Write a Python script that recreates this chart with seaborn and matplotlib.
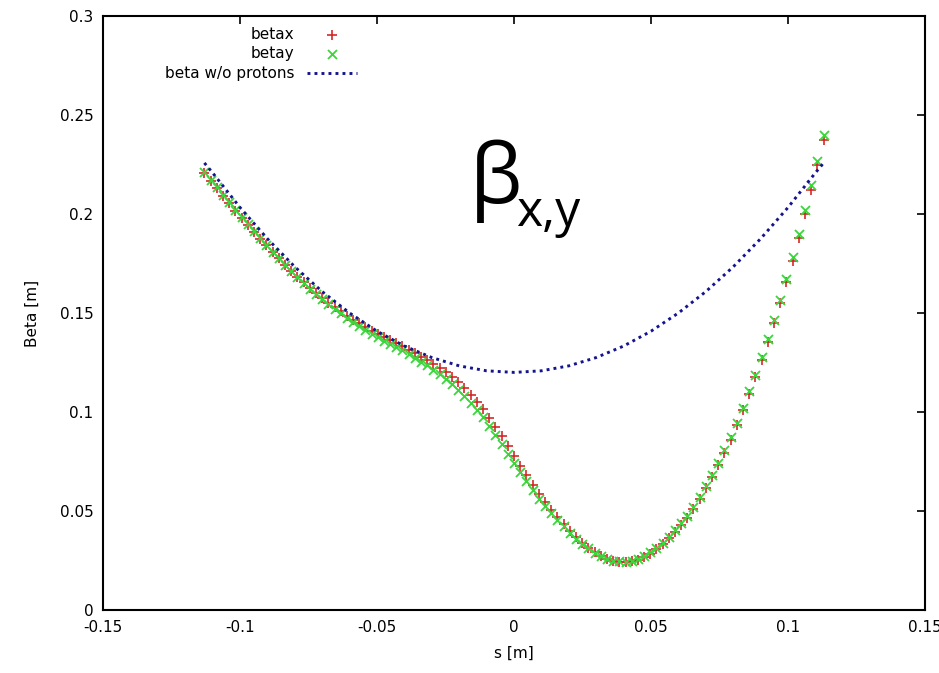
import matplotlib
matplotlib.use("Agg")
import matplotlib.pyplot as plt
import seaborn as sns
import pandas as pd

# ---------------- data ----------------
S = [-0.1130, -0.1107, -0.1085, -0.1062, -0.1040, -0.1017, -0.0994, -0.0972, -0.0949, -0.0927,
     -0.0904, -0.0881, -0.0859, -0.0836, -0.0814, -0.0791, -0.0768, -0.0746, -0.0723, -0.0701,
     -0.0678, -0.0655, -0.0633, -0.0610, -0.0588, -0.0565, -0.0542, -0.0520, -0.0497, -0.0475,
     -0.0452, -0.0429, -0.0407, -0.0384, -0.0362, -0.0339, -0.0316, -0.0294, -0.0271, -0.0249,
     -0.0226, -0.0203, -0.0181, -0.0158, -0.0136, -0.0113, -0.0090, -0.0068, -0.0045, -0.0023,
     0.0000,
     0.0023, 0.0045, 0.0068, 0.0090, 0.0113, 0.0136, 0.0158, 0.0181, 0.0203, 0.0226,
     0.0249, 0.0271, 0.0294, 0.0316, 0.0339, 0.0362, 0.0384, 0.0407, 0.0429, 0.0452,
     0.0475, 0.0497, 0.0520, 0.0542, 0.0565, 0.0588, 0.0610, 0.0633, 0.0655, 0.0678,
     0.0701, 0.0723, 0.0746, 0.0768, 0.0791, 0.0814, 0.0836, 0.0859, 0.0881, 0.0904,
     0.0927, 0.0949, 0.0972, 0.0994, 0.1017, 0.1040, 0.1062, 0.1085, 0.1107, 0.1130]

BETAX = [0.2207, 0.2168, 0.2130, 0.2092, 0.2054, 0.2016, 0.1979, 0.1943, 0.1908, 0.1874,
         0.1841, 0.1808, 0.1776, 0.1743, 0.1712, 0.1683, 0.1655, 0.1628, 0.1602, 0.1577,
         0.1553, 0.1530, 0.1508, 0.1487, 0.1467, 0.1448, 0.1428, 0.1410, 0.1393, 0.1377,
         0.1362, 0.1347, 0.1332, 0.1315, 0.1298, 0.1280, 0.1262, 0.1243, 0.1222, 0.1203,
         0.1178, 0.1150, 0.1120, 0.1087, 0.1052, 0.1013, 0.0970, 0.0925, 0.0877, 0.0827,
         0.0777,
         0.0728, 0.0680, 0.0632, 0.0587, 0.0545, 0.0505, 0.0468, 0.0432, 0.0398, 0.0367,
         0.0339, 0.0314, 0.0292, 0.0274, 0.0260, 0.0250, 0.0244, 0.0242, 0.0245, 0.0254,
         0.0267, 0.0285, 0.0307, 0.0333, 0.0362, 0.0393, 0.0428, 0.0465, 0.0512, 0.0562,
         0.0615, 0.0671, 0.0731, 0.0794, 0.0861, 0.0933, 0.1009, 0.1090, 0.1175, 0.1263,
         0.1353, 0.1449, 0.1550, 0.1655, 0.1765, 0.1880, 0.2000, 0.2123, 0.2247, 0.2374]

BETAY = [0.2212, 0.2173, 0.2135, 0.2097, 0.2059, 0.2021, 0.1983, 0.1947, 0.1912, 0.1877,
         0.1843, 0.1809, 0.1776, 0.1742, 0.1710, 0.1680, 0.1651, 0.1623, 0.1596, 0.1570,
         0.1545, 0.1521, 0.1498, 0.1476, 0.1455, 0.1435, 0.1414, 0.1395, 0.1377, 0.1360,
         0.1344, 0.1328, 0.1312, 0.1294, 0.1275, 0.1255, 0.1235, 0.1213, 0.1190, 0.1167,
         0.1141, 0.1112, 0.1081, 0.1047, 0.1011, 0.0973, 0.0931, 0.0886, 0.0839, 0.0790,
         0.0742,
         0.0696, 0.0650, 0.0605, 0.0563, 0.0524, 0.0488, 0.0454, 0.0422, 0.0390, 0.0361,
         0.0335, 0.0311, 0.0290, 0.0273, 0.0259, 0.0250, 0.0245, 0.0244, 0.0248, 0.0258,
         0.0272, 0.0291, 0.0313, 0.0340, 0.0370, 0.0402, 0.0437, 0.0475, 0.0522, 0.0572,
         0.0626, 0.0682, 0.0742, 0.0806, 0.0873, 0.0946, 0.1022, 0.1104, 0.1189, 0.1278,
         0.1369, 0.1466, 0.1568, 0.1673, 0.1784, 0.1900, 0.2021, 0.2145, 0.2269, 0.2398]

S_NOP = [-0.113, -0.11, -0.10, -0.09, -0.08, -0.07, -0.06, -0.05, -0.04, -0.03, -0.02, -0.01,
         0.0, 0.01, 0.02, 0.03, 0.04, 0.05, 0.06, 0.07, 0.08, 0.09, 0.10, 0.11, 0.113]
BETA_NOP = [0.2258, 0.2208, 0.2033, 0.1875, 0.1733, 0.1608, 0.1500, 0.1408, 0.1333, 0.1275,
            0.1233, 0.1208, 0.1200, 0.1208, 0.1233, 0.1275, 0.1333, 0.1408, 0.1500, 0.1608,
            0.1733, 0.1875, 0.2033, 0.2208, 0.2258]

XTICKS = [-0.15, -0.1, -0.05, 0, 0.05, 0.1, 0.15]
XTICK_LABELS = ["-0.15", "-0.1", "-0.05", "0", "0.05", "0.1", "0.15"]
YTICKS = [0, 0.05, 0.1, 0.15, 0.2, 0.25, 0.3]
YTICK_LABELS = ["0", "0.05", "0.1", "0.15", "0.2", "0.25", "0.3"]

SERIES_LABELS = ["betax", "betay", "beta w/o protons"]

RED = "#d42a2a"
GREEN = "#3ad63a"
BLUE = "#14148f"

# ---------------- figure ----------------
sns.set_style("white")
plt.rcParams["font.family"] = ["DejaVu Sans"]
plt.rcParams["text.color"] = "black"
plt.rcParams["axes.labelcolor"] = "black"
plt.rcParams["xtick.color"] = "black"
plt.rcParams["ytick.color"] = "black"

W, H = 939, 673
fig = plt.figure(figsize=(W / 100, H / 100), dpi=100)
ax = fig.add_axes([103 / W, 63 / H, 822 / W, 594 / H])

df = pd.DataFrame({"s": S, "betax": BETAX, "betay": BETAY})
nop = pd.DataFrame({"s": S_NOP, "beta": BETA_NOP})

sns.scatterplot(data=df, x="s", y="betax", marker="+", color=RED, s=55,
                linewidth=1.2, ax=ax, label=SERIES_LABELS[0], zorder=3)
sns.scatterplot(data=df, x="s", y="betay", marker="x", color=GREEN, s=42,
                linewidth=1.3, ax=ax, label=SERIES_LABELS[1], zorder=4)
sns.lineplot(data=nop, x="s", y="beta", color=BLUE, linestyle=(0, (1, 1.4)),
             linewidth=2.1, ax=ax, label=SERIES_LABELS[2], zorder=5,
             estimator=None, sort=False)

ax.set_xlim(-0.15, 0.15)
ax.set_ylim(0, 0.3)
ax.set_xticks(XTICKS)
ax.set_xticklabels(XTICK_LABELS)
ax.set_yticks(YTICKS)
ax.set_yticklabels(YTICK_LABELS)
ax.tick_params(direction="in", length=6, width=1.2, top=True, right=True,
               labelsize=11, pad=7, colors="black")
for sp in ax.spines.values():
    sp.set_visible(True)
    sp.set_linewidth(1.5)
    sp.set_color("black")

ax.set_xlabel("s [m]", fontsize=11, labelpad=8, color="black")
ax.set_ylabel("Beta [m]", fontsize=11, labelpad=14, color="black")

handles, labels = ax.get_legend_handles_labels()
leg = ax.legend(handles, labels, loc="upper right",
                bbox_to_anchor=((357 - 103) / 822, 0.982),
                markerfirst=False, frameon=False, fontsize=11, handlelength=3.3,
                handletextpad=0.8, labelspacing=0.3, borderpad=0, borderaxespad=0)
for t in leg.get_texts():
    t.set_color("black")

# big annotation
fam = ["Open Sans", "Noto Sans", "DejaVu Sans"]
fig.text(470 / W, 1 - 203 / H, "β", fontsize=60, family=fam, va="baseline",
         ha="left", color="black")
fig.text(516 / W, 1 - 226 / H, "x,y", fontsize=36, family=fam, va="baseline",
         ha="left", color="black")

fig.savefig("out.png", dpi=100)
